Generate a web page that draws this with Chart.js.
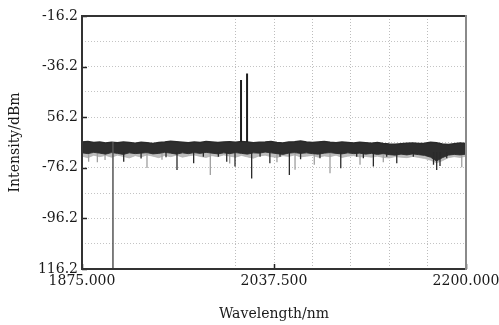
<!DOCTYPE html>
<html>
<head>
<meta charset="utf-8">
<script src="https://cdn.jsdelivr.net/npm/chart.js@4/dist/chart.umd.min.js"></script>
<style>
html,body{margin:0;padding:0;background:#fff;}
#wrap{width:499px;height:325px;}
</style>
</head>
<body>
<div id="wrap"><canvas id="c" width="499" height="325"></canvas></div>
<script>
// ---- data ----
const bandWl = [1875,1880,1885,1890,1895,1900,1905,1910,1915,1920,1925,1930,1935,1940,1945,1950,1955,1960,1965,1970,1975,1980,1985,1990,1995,2000,2005,2010,2015,2020,2025,2030,2035,2040,2045,2050,2055,2060,2065,2070,2075,2080,2085,2090,2095,2100,2105,2110,2115,2120,2125,2130,2135,2140,2145,2150,2155,2160,2165,2170,2175,2180,2185,2190,2195,2200];
const bandTop = [-66.0,-65.8,-66.2,-66.0,-66.4,-66.1,-66.3,-66.0,-66.2,-66.5,
  -66.1,-66.3,-66.6,-66.2,-66.0,-65.7,-65.9,-66.1,-66.3,-66.0,
  -66.2,-65.8,-66.0,-66.2,-66.0,-65.9,-66.1,-65.8,-66.0,-66.3,
  -66.1,-66.0,-65.8,-66.2,-66.4,-66.0,-65.9,-65.6,-66.0,-66.2,
  -66.0,-65.8,-66.1,-66.3,-66.0,-66.2,-66.4,-66.1,-66.3,-66.5,
  -66.2,-66.6,-66.8,-66.9,-66.7,-66.5,-66.4,-66.6,-66.5,-66.1,
  -66.3,-66.8,-67.0,-66.7,-66.4,-66.6];
const bandBottom = [-70.3,-70.6,-70.1,-70.4,-70.8,-70.2,-70.5,-70.9,-70.3,-70.6,
  -70.4,-70.2,-70.7,-70.5,-70.1,-70.4,-70.8,-70.3,-70.6,-70.2,
  -70.5,-70.1,-70.4,-70.7,-70.3,-70.6,-70.2,-70.5,-70.8,-70.3,
  -70.4,-70.0,-70.3,-70.6,-70.9,-70.4,-70.2,-70.5,-70.3,-70.6,
  -70.8,-70.4,-70.2,-70.5,-70.7,-70.3,-70.6,-70.4,-70.8,-70.5,
  -70.9,-70.6,-71.0,-71.2,-70.8,-71.1,-70.7,-71.0,-71.3,-72.0,
  -73.5,-72.2,-71.2,-70.9,-71.1,-70.8];
const lightBottom = [-71.6,-72.2,-71.2,-71.8,-71.3,-72.0,-71.2,-71.7,-72.3,-71.4,
  -71.9,-71.1,-71.6,-72.2,-71.3,-71.8,-71.2,-72.0,-71.5,-71.1,
  -71.7,-72.1,-71.4,-71.8,-71.1,-71.6,-72.0,-71.3,-71.9,-72.4,
  -71.5,-71.2,-71.8,-72.1,-71.4,-71.7,-71.1,-71.9,-71.6,-71.3,
  -72.0,-71.5,-71.8,-71.2,-72.1,-71.6,-71.4,-71.9,-71.7,-72.0,
  -71.6,-72.1,-72.3,-71.8,-72.0,-72.2,-71.7,-72.1,-72.5,-73.2,
  -74.2,-73.4,-72.2,-71.8,-72.1,-71.6];

const dipTop = -70.0;
const darkDipWl  = [1910.3,1925.0,1946.1,1955.4,1969.5,1977.7,1990.4,1997.5,2004.5,2018.6,2025.7,2034.0,2042.6,2050.5,2060.0,2076.4,2094.0,2107.5,2113.1,2121.6,2132.9,2141.4,2155.4,2172.5,2175.2,2178.0,2183.7];
const darkDipMin = [-73.8,-72.5,-72.0,-77.1,-74.4,-71.8,-71.8,-73.8,-75.7,-80.4,-71.8,-74.4,-71.8,-79.0,-72.8,-72.4,-76.4,-71.8,-72.4,-75.7,-71.8,-74.4,-71.8,-75.0,-77.1,-75.5,-72.4];
const grayDipWl  = [1880.6,1888.0,1894.5,1930.0,1942.7,1983.6,2000.0,2040.0,2055.3,2071.6,2084.9,2110.3,2130.0,2196.4];
const grayDipMin = [-73.8,-74.0,-73.1,-76.3,-73.0,-79.0,-74.5,-74.0,-77.0,-75.0,-78.4,-75.0,-74.0,-76.0];

const peakBase = -66.0;
const peakWl  = [2009.6, 2014.7];
const peakTop = [-41.5, -38.9];

const dropWl = [1901.2];
const dropTop = -66.0;
const dropBottom = [-116.2];

const yTickValues = [-116.2,-106.2,-96.2,-86.2,-76.2,-66.2,-56.2,-46.2,-36.2,-26.2,-16.2];
const yTickLabels = ['116.2','','-96.2','','-76.2','','56.2','','-36.2','','-16.2'];
const xTickValues = [1875,1907.5,1940,1972.5,2005,2037.5,2070,2102.5,2135,2167.5,2200];
const xTickLabels = ['1875.000','','','','','2037.500','','','','','2200.000'];
const xGridFrom = 2005;

// ---- build datasets ----
const pts = (xs, ys) => xs.map((x, i) => ({x, y: ys[i]}));
function segs(xs, y0, y1s) {
  const out = [];
  xs.forEach((x, i) => { out.push({x, y: y0}); out.push({x, y: y1s[i]}); out.push({x, y: null}); });
  return out;
}

const FONT = {family: '"DejaVu Serif", serif', size: 14};

const framePlugin = {
  id: 'frame',
  afterDraw(chart) {
    const {ctx, chartArea: a, scales} = chart;
    ctx.save();
    ctx.strokeStyle = '#222';
    ctx.lineWidth = 1.5;
    yTickValues.forEach((v, i) => {
      if (!yTickLabels[i]) return;
      const y = Math.round(scales.y.getPixelForValue(v)) + 0.5;
      ctx.beginPath(); ctx.moveTo(a.left, y); ctx.lineTo(a.left + 5, y); ctx.stroke();
    });
    xTickValues.forEach((v, i) => {
      if (!xTickLabels[i]) return;
      const x = Math.round(scales.x.getPixelForValue(v)) + 0.5;
      ctx.beginPath(); ctx.moveTo(x, a.bottom); ctx.lineTo(x, a.bottom - 5); ctx.stroke();
    });
    ctx.lineWidth = 2;
    ctx.strokeStyle = '#333';
    ctx.beginPath();
    ctx.moveTo(a.right, a.top); ctx.lineTo(a.left, a.top); ctx.lineTo(a.left, a.bottom); ctx.lineTo(a.right, a.bottom);
    ctx.stroke();
    ctx.strokeStyle = '#8a8a8a';
    ctx.beginPath(); ctx.moveTo(a.right, a.top - 1); ctx.lineTo(a.right, a.bottom + 1); ctx.stroke();
    ctx.restore();
  }
};

new Chart(document.getElementById('c'), {
  type: 'line',
  data: {
    datasets: [
      {data: pts(peakWl.flatMap(w => [w, w, w]), peakWl.flatMap((w, i) => [peakBase, peakTop[i], null])), borderColor: '#1e1e1e', borderWidth: 2, pointRadius: 0, order: 0},
      {data: segs(dropWl, dropTop, dropBottom), borderColor: '#555', borderWidth: 1.5, pointRadius: 0, order: 1},
      {data: segs(darkDipWl, dipTop, darkDipMin), borderColor: '#2a2a2a', borderWidth: 1.3, pointRadius: 0, order: 2},
      {data: pts(bandWl, bandTop), borderColor: '#2a2a2a', borderWidth: 1.5, pointRadius: 0, fill: {target: 4}, backgroundColor: '#2e2e2e', order: 3},
      {data: pts(bandWl, bandBottom), borderColor: '#3a3a3a', borderWidth: 1, pointRadius: 0, order: 4},
      {data: segs(grayDipWl, dipTop, grayDipMin), borderColor: '#a0a0a0', borderWidth: 1.3, pointRadius: 0, order: 5},
      {data: pts(bandWl, lightBottom), borderColor: 'rgba(180,180,180,0.8)', borderWidth: 1, pointRadius: 0, fill: {target: 4}, backgroundColor: '#bdbdbd', order: 6}
    ]
  },
  options: {
    responsive: false,
    devicePixelRatio: 1,
    animation: false,
    events: [],
    layout: {padding: {left: 0, top: 16, right: 33, bottom: 0}},
    plugins: {legend: {display: false}, tooltip: {enabled: false}},
    elements: {line: {tension: 0}},
    scales: {
      x: {
        type: 'linear', min: 1875, max: 2200,
        afterBuildTicks: s => { s.ticks = xTickValues.map(v => ({value: v})); },
        afterFit: s => { s.height = 56; s.paddingLeft = 0; s.paddingRight = 0; },
        ticks: {autoSkip: false, maxRotation: 0, minRotation: 0, padding: 4, color: '#1a1a1a', font: FONT,
          callback: (v, i) => xTickLabels[i]},
        grid: {drawTicks: false, lineWidth: 1,
          color: c => (c.tick && c.tick.value >= xGridFrom && c.tick.value < 2200) ? '#bdbdbd' : 'rgba(0,0,0,0)'},
        border: {display: false, dash: [1, 2]},
        title: {display: true, text: 'Wavelength/nm', color: '#1a1a1a', font: FONT, padding: {top: 0, bottom: 2}}
      },
      y: {
        type: 'linear', min: -116.2, max: -16.2,
        afterBuildTicks: s => { s.ticks = yTickValues.map(v => ({value: v})); },
        afterFit: s => { s.width = 82; s.paddingTop = 0; s.paddingBottom = 0; },
        ticks: {autoSkip: false, padding: 4, color: '#1a1a1a', font: FONT,
          callback: (v, i) => yTickLabels[i]},
        grid: {drawTicks: false, lineWidth: 1, color: '#c4c4c4'},
        border: {display: false, dash: [1, 2]},
        title: {display: true, text: 'Intensity/dBm', color: '#1a1a1a', font: FONT, padding: {top: 7, bottom: 0}}
      }
    }
  },
  plugins: [framePlugin]
});
</script>
</body>
</html>
